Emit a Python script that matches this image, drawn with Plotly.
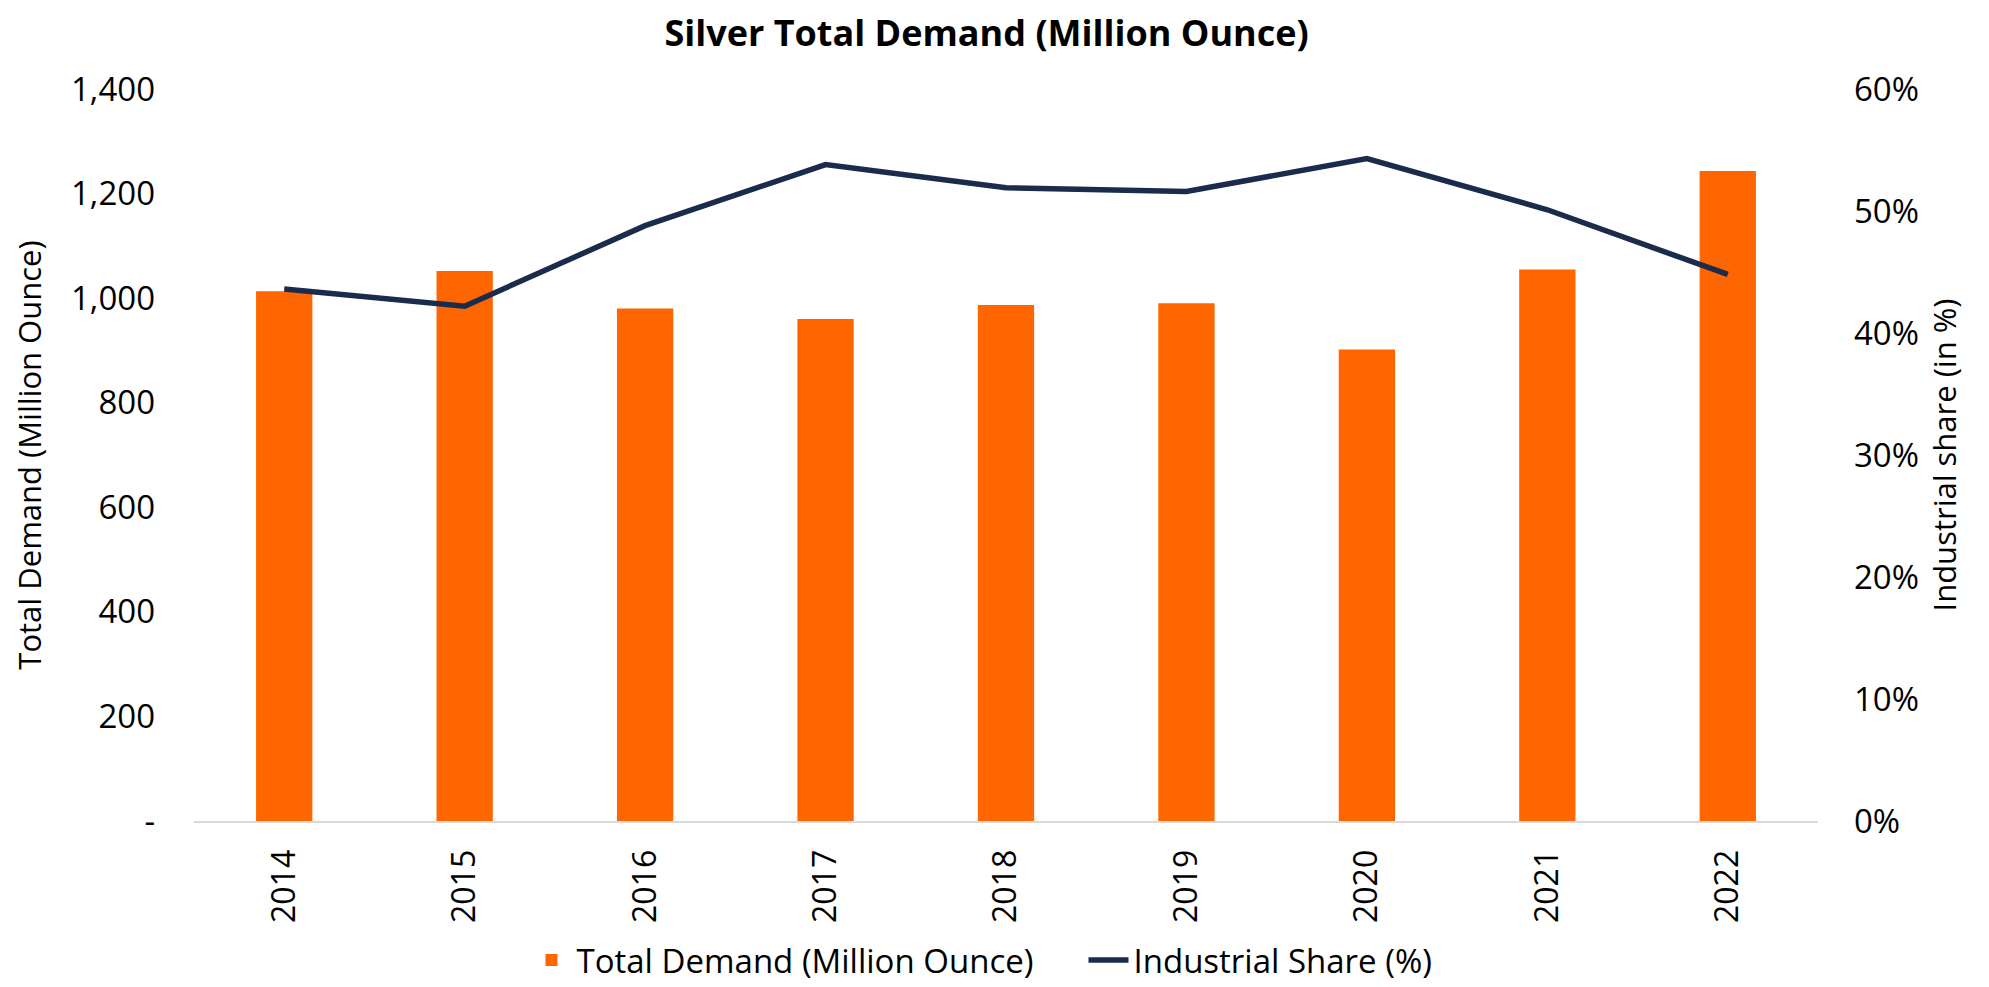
import plotly.graph_objects as go

years = ["2014", "2015", "2016", "2017", "2018", "2019", "2020", "2021", "2022"]
total_demand = [1013, 1052, 980, 960, 987, 990, 902, 1055, 1243]
industrial_share = [0.436, 0.422, 0.488, 0.538, 0.519, 0.516, 0.543, 0.501, 0.448]

left_ticks = [0, 200, 400, 600, 800, 1000, 1200, 1400]
left_ticktext = ["-", "200", "400", "600", "800", "1,000", "1,200", "1,400"]
right_ticks = [0, 0.1, 0.2, 0.3, 0.4, 0.5, 0.6]
right_ticktext = ["0%", "10%", "20%", "30%", "40%", "50%", "60%"]

FONT = "Open Sans"
ORANGE = "#FF6600"
NAVY = "#1B2B4B"

# page body has an 8px default margin, so the figure is sized to fit the window
W, H = 1981, 979

fig = go.Figure()
fig.add_trace(go.Bar(
    x=years, y=total_demand, name="Total Demand (Million Ounce)",
    marker=dict(color=ORANGE, line=dict(width=0)), yaxis="y",
))
fig.add_trace(go.Scatter(
    x=years, y=industrial_share, name="Industrial Share (%)",
    mode="lines", line=dict(color=NAVY, width=5.5), yaxis="y2",
))

fig.update_layout(
    width=W, height=H,
    margin=dict(l=186, r=171, t=81, b=165.5, pad=0, autoexpand=False),
    paper_bgcolor="white", plot_bgcolor="white",
    font=dict(family=FONT, size=32, color="black"),
    title=dict(text="<b>Silver Total Demand (Million Ounce)</b>",
               font=dict(family=FONT, size=36, color="black"),
               x=0.494, xanchor="center", y=0.9745, yanchor="middle",
               xref="container", yref="container"),
    bargap=0.688,
    showlegend=True,
    legend=dict(orientation="h", xref="container", yref="container",
                x=0.5429, xanchor="center", y=0.0276, yanchor="middle",
                font=dict(family=FONT, size=33, color="black"),
                itemwidth=40, entrywidth=502, entrywidthmode="pixels",
                tracegroupgap=0, bgcolor="rgba(0,0,0,0)"),
    xaxis=dict(type="category", tickangle=-90, showgrid=False, showline=True,
               linecolor="#D9D9D9", linewidth=2, ticks="", ticklabelstandoff=14,
               tickfont=dict(family=FONT, size=32, color="black"), zeroline=False),
    yaxis=dict(range=[0, 1400], tickvals=left_ticks, ticktext=left_ticktext,
               showgrid=False, zeroline=False, showline=False, ticks="",
               ticklabelstandoff=38,
               tickfont=dict(family=FONT, size=33, color="black"),
               title=dict(text="Total Demand (Million Ounce)", standoff=22,
                          font=dict(family=FONT, size=31, color="black"))),
    yaxis2=dict(range=[0, 0.6], tickvals=right_ticks, ticktext=right_ticktext,
                overlaying="y", side="right", showgrid=False, zeroline=False,
                showline=False, ticks="", ticklabelstandoff=35,
                tickfont=dict(family=FONT, size=33, color="black"),
                title=dict(text="Industrial share (in %)", standoff=16,
                           font=dict(family=FONT, size=31, color="black"))),
)

fig.write_html("out.html")
